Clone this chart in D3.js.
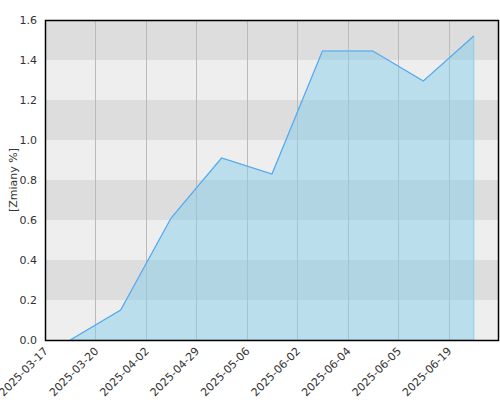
<!DOCTYPE html>
<html>
<head>
<meta charset="utf-8">
<script src="https://cdn.jsdelivr.net/npm/d3@7"></script>
<style>
  body { margin: 0; background: #fff; }
  text { font-family: "DejaVu Sans", sans-serif; }
</style>
</head>
<body>
<svg width="500" height="400"></svg>
<script>

var dates = ["2025-03-17","2025-03-20","2025-04-02","2025-04-29","2025-05-06","2025-06-02","2025-06-04","2025-06-05","2025-06-19"];
var values = [0, 0.15, 0.61, 0.91, 0.83, 1.445, 1.445, 1.295, 1.52];
var yTicks = [0, 0.2, 0.4, 0.6, 0.8, 1.0, 1.2, 1.4, 1.6];

var svg = d3.select("svg"),
  mLeft = 45, mRight = 499, mTop = 20, mBottom = 340;

var x = d3.scaleBand().domain(dates).range([mLeft, mRight]);
var y = d3.scaleLinear().domain([0, 1.6]).range([mBottom, mTop]);

// alternating bands
svg.append("g").selectAll("rect")
  .data(yTicks.slice(0, -1))
  .enter().append("rect")
  .attr("x", mLeft)
  .attr("width", mRight - mLeft)
  .attr("y", function(d) { return y(d + 0.2); })
  .attr("height", function(d) { return y(d) - y(d + 0.2); })
  .style("fill", function(d, i) { return i % 2 ? "#dddddd" : "#eeeeee"; });

// vertical grid
svg.append("g").selectAll("line")
  .data(dates.slice(1))
  .enter().append("line")
  .attr("x1", function(d) { return Math.round(x(d)) + 0.5; })
  .attr("x2", function(d) { return Math.round(x(d)) + 0.5; })
  .attr("y1", mTop)
  .attr("y2", mBottom)
  .style("stroke", "#bbbbbb")
  .style("stroke-width", 1);

var pts = dates.map(function(d, i) { return { date: d, value: values[i] }; });
var cx = function(d) { return x(d.date) + x.bandwidth() / 2; };

svg.append("path")
  .datum(pts)
  .attr("d", d3.area().x(cx).y0(y(0)).y1(function(d) { return y(d.value); }))
  .style("fill", "rgba(135,206,235,0.5)")
  .style("stroke", "#87ceeb")
  .style("stroke-width", 1);

svg.append("path")
  .datum(pts)
  .attr("d", d3.line().x(cx).y(function(d) { return y(d.value); }))
  .style("fill", "none")
  .style("stroke", "#5aaaf0")
  .style("stroke-width", 1.2);

// frame
svg.append("rect")
  .attr("x", mLeft + 0.5)
  .attr("y", mTop + 0.5)
  .attr("width", mRight - mLeft - 1)
  .attr("height", mBottom - mTop)
  .style("fill", "none")
  .style("stroke", "#000")
  .style("stroke-width", 1.5);

// y axis labels
svg.append("g").selectAll("text")
  .data(yTicks)
  .enter().append("text")
  .attr("x", 37)
  .attr("y", function(d) { return y(d); })
  .attr("dy", "0.35em")
  .attr("text-anchor", "end")
  .style("font-size", "11px")
  .style("fill", "#333")
  .text(function(d) { return d.toFixed(1); });

svg.append("text")
  .attr("transform", "translate(17," + (mTop + mBottom) / 2 + ") rotate(-90)")
  .attr("text-anchor", "middle")
  .style("font-size", "11px")
  .style("fill", "#333")
  .text("[Zmiany %]");

// x axis labels
svg.append("g").selectAll("text")
  .data(dates)
  .enter().append("text")
  .attr("transform", function(d) { return "translate(" + (x(d) + 1) + ",349) rotate(-45)"; })
  .attr("text-anchor", "end")
  .attr("dy", "0.35em")
  .style("font-size", "11px")
  .style("fill", "#333")
  .text(function(d) { return d; });

</script>
</body>
</html>
